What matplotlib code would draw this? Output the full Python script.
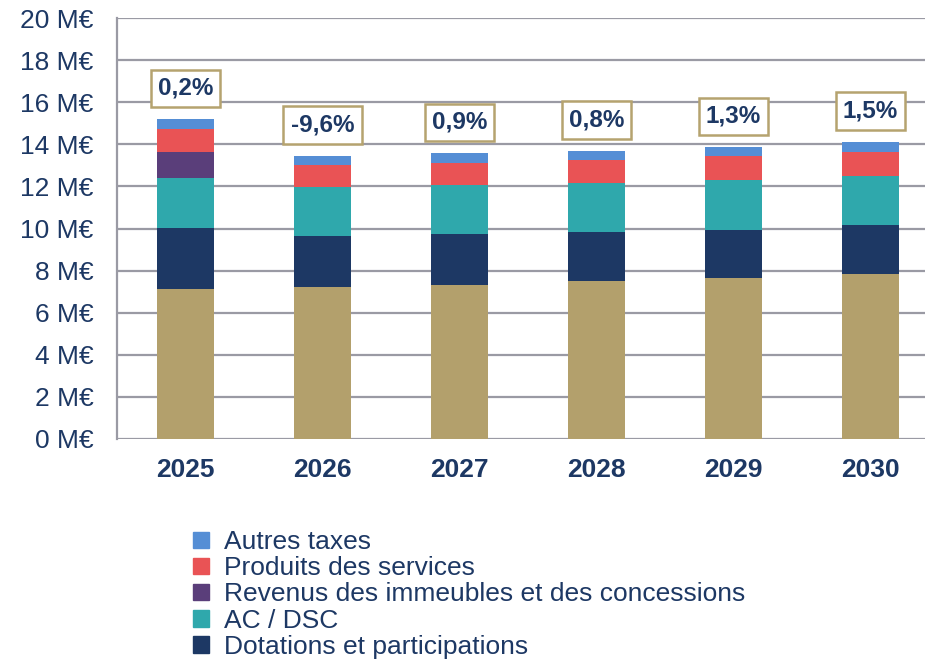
import numpy as np
import matplotlib.pyplot as plt
from matplotlib.patches import Patch

plt.rcParams['font.family'] = ['Liberation Sans', 'DejaVu Sans']

years = ['2025', '2026', '2027', '2028', '2029', '2030']
fiscalite = [7.13, 7.21, 7.33, 7.51, 7.65, 7.84]
dotations = [2.88, 2.41, 2.40, 2.30, 2.30, 2.32]
ac_dsc = [2.37, 2.33, 2.32, 2.33, 2.34, 2.33]
revenus = [1.25, 0, 0, 0, 0, 0]
produits = [1.10, 1.07, 1.08, 1.10, 1.14, 1.14]
autres = [0.46, 0.42, 0.44, 0.44, 0.43, 0.47]
evolution = ['0,2%', '-9,6%', '0,9%', '0,8%', '1,3%', '1,5%']

navy = '#1d3864'
gray = '#9a9aa4'
series = [
    (fiscalite, '#b3a06c', None),
    (dotations, '#1d3864', 'Dotations et participations'),
    (ac_dsc, '#2fa8ac', 'AC / DSC'),
    (revenus, '#5a3e7a', 'Revenus des immeubles et des concessions'),
    (produits, '#e95355', 'Produits des services'),
    (autres, '#558ed5', 'Autres taxes'),
]

fig = plt.figure(figsize=(9.25, 6.6), dpi=100)
ax = fig.add_axes([117/925, 1-439/660, 822/925, 421/660])

x = np.arange(len(years))
bottom = np.zeros(len(years))
for vals, col, lab in series:
    ax.bar(x, vals, 0.42, bottom=bottom, color=col, zorder=3)
    bottom += np.array(vals)

for i, txt in enumerate(evolution):
    ax.annotate(txt, (x[i], bottom[i]), xytext=(0, 14), textcoords='offset points',
                ha='center', va='bottom', fontsize=17.5, fontweight='bold', color=navy,
                bbox=dict(boxstyle='square,pad=0.3', fc='white', ec='#b5a36f', lw=1.8))

ax.set_xlim(-0.5, 5.5)
ax.set_ylim(0, 20)
ax.set_yticks(range(0, 21, 2))
ax.set_yticklabels([f'{v} M€' for v in range(0, 21, 2)])
ax.set_xticks(x)
ax.set_xticklabels(years, fontweight='bold')
ax.tick_params(axis='y', labelsize=19, labelcolor=navy, length=0, pad=17)
ax.tick_params(axis='x', labelsize=19, labelcolor=navy, length=0, pad=14)
ax.grid(axis='y', color=gray, lw=1.6, zorder=0)
for s in ['top', 'right', 'bottom']:
    ax.spines[s].set_visible(False)
ax.spines['left'].set_color(gray)
ax.spines['left'].set_linewidth(1.6)

handles = [Patch(color=c, label=l) for v, c, l in series[::-1] if l]
fig.legend(handles=handles, loc='upper left', bbox_to_anchor=(180/925, 1-517/660),
           frameon=False, fontsize=19, handlelength=0.6, handleheight=0.6,
           handletextpad=0.55, labelspacing=0.08, labelcolor=navy, borderpad=0)

fig.savefig('out.png', dpi=100)
